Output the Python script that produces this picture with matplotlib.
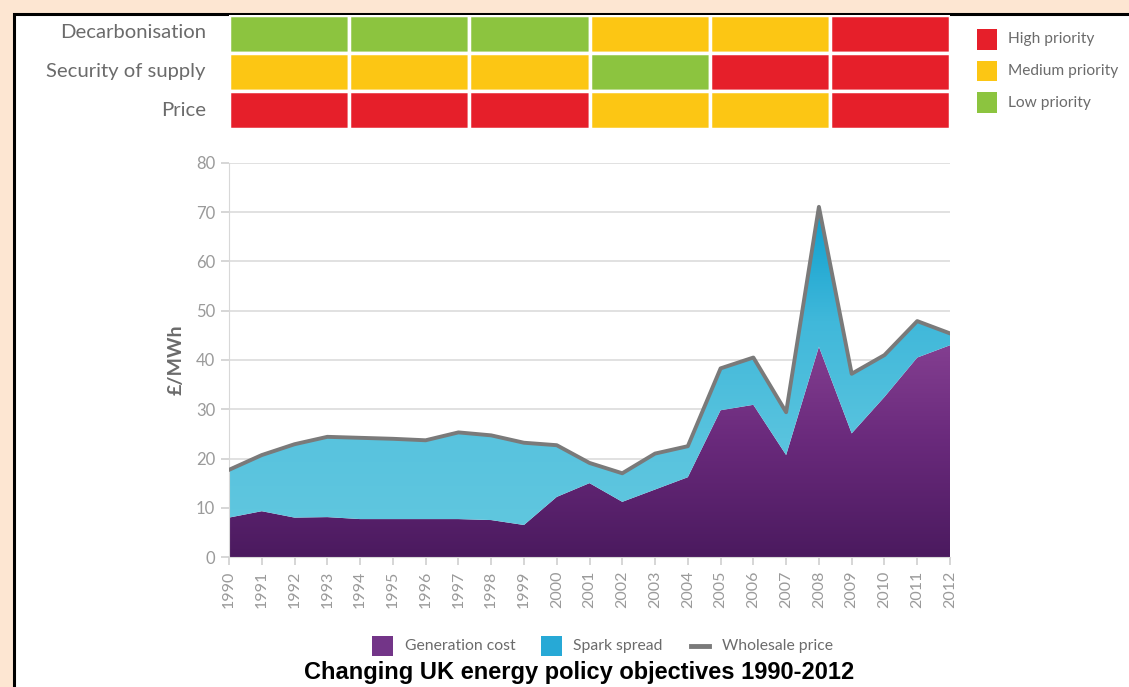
import numpy as np
import matplotlib.pyplot as plt
from matplotlib.patches import Rectangle
from matplotlib.colors import LinearSegmentedColormap

# %%
# Data
years = np.arange(1990, 2013)
generation_cost = [8.0, 9.3, 8.0, 8.1, 7.7, 7.7, 7.7, 7.7, 7.5, 6.5, 12.2, 15.0,
                   11.2, 13.7, 16.2, 29.8, 30.9, 20.7, 42.7, 25.1, 32.5, 40.5, 43.0]
wholesale_price = [17.7, 20.7, 22.9, 24.4, 24.2, 24.0, 23.7, 25.3, 24.7, 23.2, 22.7, 19.1,
                   17.0, 21.0, 22.5, 38.3, 40.5, 29.4, 71.1, 37.2, 41.0, 47.9, 45.4]

objectives = ["Decarbonisation", "Security of supply", "Price"]
# one entry per period column, H = high, M = medium, L = low priority
priorities = [
    ["L", "L", "L", "M", "M", "H"],
    ["M", "M", "M", "L", "H", "H"],
    ["H", "H", "H", "M", "M", "H"],
]
priority_labels = {"H": "High priority", "M": "Medium priority", "L": "Low priority"}
priority_colors = {"H": "#e61f2a", "M": "#fcc614", "L": "#8cc43f"}

title = "Changing UK energy policy objectives 1990-2012"

# %%
W, H = 1129, 687
fig = plt.figure(figsize=(W / 100, H / 100), dpi=100)
fig.patch.set_facecolor("#fde6d2")


def fx(px):
    return px / W


def fy(py):
    return 1 - py / H


# white panel with black frame
fig.add_artist(Rectangle((fx(14), -0.1), 1.2, fy(14) + 0.1, transform=fig.transFigure,
                         facecolor="white", edgecolor="black", lw=2.2, zorder=0))

grey_txt = "#6b6b6b"
light_txt = "#9a9a9a"
font = "Lato"

# %%
# priority table
tax = fig.add_axes([fx(229), fy(129), fx(950) - fx(229), fy(15) - fy(129)])
tax.set_xlim(0, 6)
tax.set_ylim(0, 3)
tax.axis("off")
for r, row in enumerate(priorities):
    for c, p in enumerate(row):
        tax.add_patch(Rectangle((c, 2 - r), 1, 1, facecolor=priority_colors[p],
                                edgecolor="white", lw=2.5))
for r, name in enumerate(objectives):
    fig.text(fx(206), fy(33 + r * 38.5), name, ha="right", va="center",
             fontsize=14.6, color=grey_txt, family=font)

for i, k in enumerate(["H", "M", "L"]):
    y = 39.5 + i * 31.5
    fig.add_artist(Rectangle((fx(977), fy(y + 10)), fx(20), 20 / H,
                             transform=fig.transFigure, facecolor=priority_colors[k],
                             edgecolor="none"))
    fig.text(fx(1008), fy(y), priority_labels[k], ha="left", va="center",
             fontsize=11.2, color=grey_txt, family=font)

# %%
# stacked area chart
ax = fig.add_axes([fx(229), fy(557), fx(950) - fx(229), fy(163) - fy(557)])
gen = np.array(generation_cost)
whole = np.array(wholesale_price)

purple = LinearSegmentedColormap.from_list("p", ["#4b1a5f", "#6a2a7c", "#8a4496"])
cyan = LinearSegmentedColormap.from_list("c", ["#62c8df", "#58c3de", "#40b8da", "#0c9dcd"])

grad = np.linspace(0, 1, 256).reshape(-1, 1)
poly_gen = ax.fill_between(years, 0, gen, facecolor="none", edgecolor="none")
im1 = ax.imshow(grad, extent=[1990, 2012, 0, 48], origin="lower", aspect="auto",
                cmap=purple, zorder=2)
im1.set_clip_path(poly_gen.get_paths()[0], transform=ax.transData)
poly_sp = ax.fill_between(years, gen, whole, facecolor="none", edgecolor="none")
im2 = ax.imshow(grad, extent=[1990, 2012, 0, 72], origin="lower", aspect="auto",
                cmap=cyan, zorder=2)
im2.set_clip_path(poly_sp.get_paths()[0], transform=ax.transData)
ax.plot(years, whole, color="#7a7a7a", lw=2.8, zorder=3, solid_joinstyle="round")

ax.set_xlim(1990, 2012)
ax.set_ylim(0, 80)
ax.set_yticks(range(0, 81, 10))
ax.set_xticks(years)
ax.set_xticklabels([str(y) for y in years], rotation=90)
ax.grid(axis="y", color="#dcdcdc", lw=1.2, zorder=0)
ax.set_axisbelow(True)
for s in ["top", "right"]:
    ax.spines[s].set_visible(False)
for s in ["left", "bottom"]:
    ax.spines[s].set_color("#d8d8d8")
ax.tick_params(axis="both", colors="#d0d0d0", length=6, width=1.2)
ax.tick_params(axis="y", labelsize=12, labelcolor=light_txt, pad=4)
ax.tick_params(axis="x", labelsize=11.5, labelcolor=light_txt, pad=4)
for lab in ax.get_xticklabels() + ax.get_yticklabels():
    lab.set_family(font)
ax.set_ylabel("£/MWh", fontsize=14, color=grey_txt, family=font, fontweight="bold",
              labelpad=8)

# %%
# bottom legend
ly = 646
fig.add_artist(Rectangle((fx(372), fy(ly + 10)), fx(21), 20 / H, transform=fig.transFigure,
                         facecolor="#733588", edgecolor="none"))
fig.text(fx(405), fy(ly), "Generation cost", ha="left", va="center", fontsize=11.3,
         color=grey_txt, family=font)
fig.add_artist(Rectangle((fx(541), fy(ly + 10)), fx(21), 20 / H, transform=fig.transFigure,
                         facecolor="#27a9d6", edgecolor="none"))
fig.text(fx(573), fy(ly), "Spark spread", ha="left", va="center", fontsize=11.3,
         color=grey_txt, family=font)
fig.add_artist(plt.Line2D([fx(691), fx(709)], [fy(ly), fy(ly)], transform=fig.transFigure,
                          color="#7a7a7a", lw=3.5))
fig.text(fx(722), fy(ly), "Wholesale price", ha="left", va="center", fontsize=11.3,
         color=grey_txt, family=font)

fig.text(fx(579), fy(673), title, ha="center", va="center", fontsize=17,
         fontweight="bold", color="black", family="Liberation Sans")

fig.savefig("out.png", dpi=100, facecolor=fig.get_facecolor())
